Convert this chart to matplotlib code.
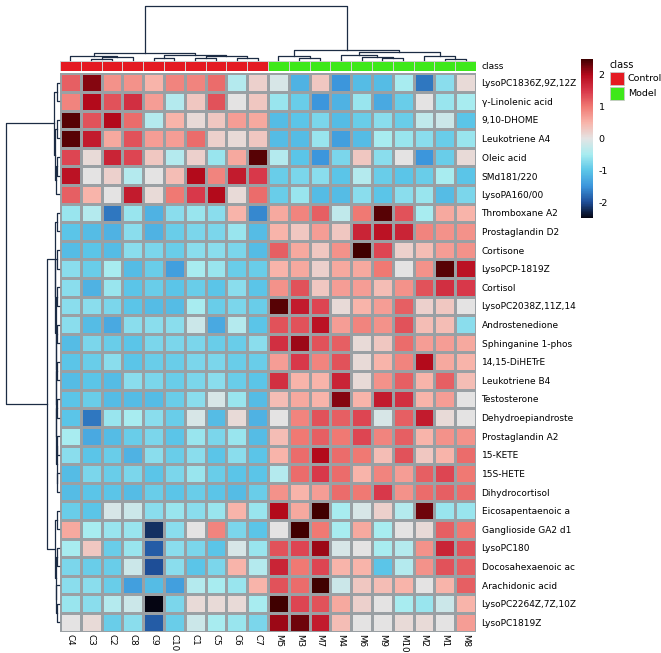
import matplotlib
matplotlib.use('Agg')
import matplotlib.pyplot as plt
import numpy as np
from matplotlib.colors import LinearSegmentedColormap, ListedColormap
from matplotlib.patches import Rectangle

# column (sample) order as displayed
samples = ['C4', 'C3', 'C2', 'C8', 'C9', 'C10', 'C1', 'C5', 'C6', 'C7',
           'M5', 'M3', 'M7', 'M4', 'M6', 'M9', 'M10', 'M2', 'M1', 'M8']
sample_class = ['Control'] * 10 + ['Model'] * 10

metabolites = ['LysoPC1836Z,9Z,12Z', 'γ-Linolenic acid', '9,10-DHOME', 'Leukotriene A4',
               'Oleic acid', 'SMd181/220', 'LysoPA160/00', 'Thromboxane A2',
               'Prostaglandin D2', 'Cortisone', 'LysoPCP-1819Z', 'Cortisol',
               'LysoPC2038Z,11Z,14', 'Androstenedione', 'Sphinganine 1-phos',
               '14,15-DiHETrE', 'Leukotriene B4', 'Testosterone', 'Dehydroepiandroste',
               'Prostaglandin A2', '15-KETE', '15S-HETE', 'Dihydrocortisol',
               'Eicosapentaenoic a', 'Ganglioside GA2 d1', 'LysoPC180',
               'Docosahexaenoic ac', 'Arachidonic acid', 'LysoPC2264Z,7Z,10Z', 'LysoPC1819Z']

# z-scores, one row per metabolite
zscores = [
    [1.2, 2.2, 0.8, 0.8, 0.5, 0.9, 0.9, 1.1, -0.4, 0.2, -0.1, -1.2, 0.3, -1.5, -1.1, -1.1, -0.5, -1.7, -0.7, 0.1],
    [0.9, 2.0, 1.3, 1.6, 0.7, -0.4, 0.3, 1.3, 0.0, 0.3, -0.6, -0.9, -1.5, -1.2, -0.6, -1.3, -0.9, 0.0, -0.6, -0.5],
    [2.4, 1.3, 2.0, 1.1, -0.4, 0.5, 0.1, 0.3, 0.7, 0.6, -1.1, -1.0, -0.8, -1.1, -0.9, -0.7, -0.9, -0.3, -0.2, -1.0],
    [2.4, 1.8, 0.6, 1.3, 0.7, 0.7, 1.1, 0.2, 0.1, 0.3, -1.1, -1.1, -0.6, -1.4, -1.1, -0.5, -0.6, -0.7, -0.9, -0.6],
    [1.4, 0.1, 1.7, 1.4, 0.3, -0.4, 0.2, -0.6, 0.6, 2.4, -0.4, -1.0, -1.5, -0.8, 0.3, -0.7, 0.0, -1.5, -0.9, 0.1],
    [1.9, 0.0, 0.2, -0.4, 0.0, 0.4, 2.0, 0.9, 1.8, 1.5, -0.9, -0.8, -0.7, -1.0, -0.4, -0.9, -1.0, -0.9, -0.5, -1.0],
    [1.2, 0.5, 0.0, 1.8, 0.1, 1.0, 1.5, 2.0, 0.1, 1.1, -0.9, -0.6, -1.1, -1.1, -0.7, -1.0, -0.7, -0.6, -1.1, -0.8],
    [-0.6, -0.4, -1.7, -0.6, -1.2, -0.7, -0.6, -0.7, 0.5, -1.6, 0.6, 0.9, 1.2, -0.3, 1.0, 2.4, 1.3, -0.5, 0.6, 0.5],
    [-1.0, -1.1, -1.2, -0.7, -1.2, -0.9, -0.8, -0.8, -0.6, -1.1, 0.5, 0.3, 0.7, 0.3, 1.7, 1.9, 1.7, 0.9, 0.8, 0.8],
    [-1.1, -1.0, -1.1, -0.7, -0.8, -0.9, -0.7, -0.7, -0.8, -1.1, 1.2, 0.6, 0.3, 0.8, 2.5, 1.4, 0.2, 0.4, 0.7, 0.8],
    [-0.7, -0.9, -0.5, -1.1, -0.9, -1.4, -0.5, -0.6, -0.9, -0.9, 0.5, 0.6, 0.2, 0.6, 0.6, 1.0, 0.0, 0.8, 2.4, 1.9],
    [-0.7, -1.2, -0.6, -1.0, -0.9, -1.0, -0.9, -1.0, -0.7, -1.0, 0.8, 1.3, 0.3, 0.7, 0.7, 0.4, 0.8, 1.3, 1.6, 1.5],
    [-0.7, -0.7, -0.8, -1.0, -1.1, -1.1, -0.5, -0.9, -0.8, -0.9, 2.4, 1.8, 1.4, 0.1, 0.5, 0.7, 1.2, 0.2, 0.3, 0.0],
    [-0.7, -1.1, -1.3, -0.7, -0.7, -0.7, -0.2, -1.3, -0.4, -1.0, 1.3, 1.3, 1.9, 0.7, 0.9, 0.8, 1.3, 0.4, 0.4, -0.7],
    [-1.1, -0.8, -0.9, -1.0, -0.8, -0.8, -0.8, -0.9, -0.9, -0.7, 1.6, 2.1, 1.3, 1.2, 0.1, 0.3, 1.1, 0.7, 0.7, 0.6],
    [-1.0, -0.9, -0.7, -1.0, -0.9, -0.9, -0.8, -0.8, -0.9, -0.9, 0.7, 1.5, 0.9, 1.3, 0.1, 0.5, 0.9, 2.0, 0.6, 0.5],
    [-1.1, -1.0, -1.1, -0.7, -0.8, -0.9, -0.8, -0.7, -0.9, -1.0, 1.6, 0.5, 0.5, 1.7, 0.1, 0.8, 1.2, 0.5, 1.2, 0.4],
    [-1.0, -0.9, -1.1, -1.1, -1.1, -0.9, -0.7, -0.1, -0.6, -1.1, 0.4, 0.6, 0.5, 2.2, 0.5, 1.8, 1.6, 0.5, 0.7, 0.0],
    [-1.0, -1.7, -0.6, -0.5, -0.7, -0.9, -0.1, -1.1, 0.1, -1.2, 0.0, 0.9, 1.3, 1.2, 1.4, -0.1, 1.2, 1.8, 0.1, 0.0],
    [-0.5, -1.3, -1.1, -0.9, -0.8, -1.0, -0.6, -0.8, -0.6, -1.1, 0.4, 1.0, 1.2, 1.0, 1.4, 0.9, 1.2, 0.5, 0.8, 0.8],
    [-0.7, -1.0, -0.9, -1.2, -0.7, -0.9, -0.7, -1.0, -0.7, -1.0, 0.5, 1.1, 2.0, 1.1, 1.0, 0.4, 1.3, 0.3, 0.5, 1.1],
    [-1.1, -0.8, -0.9, -0.8, -1.0, -0.8, -0.6, -0.9, -1.0, -1.0, -0.4, 1.1, 1.5, 1.1, 0.5, 0.9, 0.7, 1.2, 1.4, 1.0],
    [-1.1, -1.0, -1.0, -1.1, -0.9, -1.0, -0.9, -1.0, -1.1, -0.9, 0.8, 0.5, 0.7, 1.1, 1.0, 1.5, 0.8, 1.1, 1.2, 1.1],
    [-0.9, -1.0, -0.1, -0.2, -0.7, -0.6, -0.7, -0.6, 0.5, -0.6, 2.0, 0.6, 2.6, -0.5, -0.1, 0.2, -0.4, 2.3, -0.6, -0.6],
    [0.6, -0.5, -0.6, -0.6, -2.2, -0.7, 0.0, 0.9, -0.8, -1.0, 0.0, 2.6, 1.0, -0.5, 0.6, -0.5, 0.0, 0.1, 1.2, 1.0],
    [-0.5, 0.3, -0.9, -0.6, -1.9, -0.7, -0.8, -1.0, -0.1, -0.6, 1.3, 1.4, 2.1, -0.1, 0.0, -0.5, -0.4, 0.8, 1.7, 1.3],
    [-0.8, -0.9, -0.9, -0.2, -2.0, -0.7, -1.0, -0.8, 0.5, -0.4, 1.7, 1.0, 1.4, 0.5, 0.5, -1.0, -0.4, 0.8, 1.3, 1.2],
    [-0.7, -0.7, -0.9, -1.4, -1.1, -1.4, -0.4, -0.5, -0.6, 0.5, 1.3, 1.1, 2.6, -0.2, 0.3, 0.4, 0.5, 0.0, 0.5, 1.2],
    [-0.6, -0.7, -0.4, -0.2, -2.5, -0.8, 0.1, 0.1, 0.1, -0.5, 2.6, 1.4, 1.3, 0.6, 0.2, 0.0, -0.5, -0.6, -0.2, 0.5],
    [0.0, 0.1, -0.9, -0.7, -1.9, -0.9, -0.2, -0.5, -0.6, -0.8, 2.1, 2.3, 1.8, 0.4, 0.0, 0.0, 0.1, 0.1, 0.0, 0.7],
]

# clustering trees: (left, right, height), leaves are display indices
col_tree = (((0, ((1, 2, 1.5), 3, 3.0), 4.5),
             ((4, 5, 2.5), ((6, 7, 2.0), (8, 9, 2.5), 4.0), 5.5), 6.7),
            ((10, (11, 12, 2.5), 4.3),
             ((13, (14, (15, 16, 2.0), 3.0), 5.0), (17, (18, 19, 1.5), 4.0), 7.7), 10.3),
            55.0)
row_a = ((0, 1, 1.5), ((2, 3, 1.8), ((4, 5, 1.5), 6, 2.5), 3.2), 4.2)
row_b1 = ((7, 8, 1.5), ((9, 10, 1.6), ((11, 12, 1.4), ((13, 14, 1.5), ((15, 16, 1.3),
          ((17, 18, 1.4), ((19, 20, 1.5), (21, 22, 1.2), 2.0), 2.3), 2.5), 2.7), 2.9), 3.1), 3.5)
row_b2 = ((23, 24, 2.0), ((25, 26, 1.5), (27, (28, 29, 1.8), 2.2), 2.6), 3.4)
row_tree = (row_a, (row_b1, row_b2, 11.8), 52.5)

class_colors = {'Control': '#e41a22', 'Model': '#3ee81a'}

cmap = LinearSegmentedColormap.from_list('bluered', [
    (0.00, '#050512'), (0.10, '#1f4f9a'), (0.20, '#3c96dc'), (0.30, '#5cc6e8'),
    (0.40, '#a8ecf0'), (0.50, '#e4e4e4'), (0.60, '#f8b4aa'), (0.70, '#f07a74'),
    (0.80, '#d8384a'), (0.90, '#b50a1c'), (1.00, '#400000')])
vmin, vmax = -2.5, 2.5

W, H = 661, 653


def fig_box(x0, y0, x1, y1):
    # pixel box (top-left origin) -> figure fraction rect
    return [x0 / W, 1 - y1 / H, (x1 - x0) / W, (y1 - y0) / H]


def draw_tree(ax, node, horizontal):
    # returns (position, height) of node, drawing the links on the way
    if isinstance(node, int):
        return node + 0.5, 0.0
    left, right, h = node
    p1, h1 = draw_tree(ax, left, horizontal)
    p2, h2 = draw_tree(ax, right, horizontal)
    pos = [p1, p1, p2, p2]
    hts = [h1, h, h, h2]
    if horizontal:
        ax.plot(hts, pos, color='#1c2c44', lw=0.9, clip_on=False)
    else:
        ax.plot(pos, hts, color='#1c2c44', lw=0.9, clip_on=False)
    return (p1 + p2) / 2, h


fig = plt.figure(figsize=(W / 100, H / 100), dpi=100)

x0, x1 = 60, 476
y0, y1 = 73.3, 631.6
ax = fig.add_axes(fig_box(x0, y0, x1, y1))
data = np.array(zscores)
mesh = ax.pcolormesh(np.arange(len(samples) + 1), np.arange(len(metabolites) + 1), data,
                     cmap=cmap, vmin=vmin, vmax=vmax, edgecolors='#9aa0a4', linewidth=0.8)
ax.set_xlim(0, len(samples))
ax.set_ylim(len(metabolites), 0)
ax.set_xticks(np.arange(len(samples)) + 0.5)
ax.set_xticklabels(samples, rotation=270, fontsize=6.3)
ax.set_yticks(np.arange(len(metabolites)) + 0.5)
ax.set_yticklabels(metabolites, fontsize=6.5)
ax.yaxis.tick_right()
ax.tick_params(axis='y', length=0, pad=4)
ax.tick_params(axis='x', length=0, pad=2)
for s in ax.spines.values():
    s.set_visible(False)

# class annotation bar
axc = fig.add_axes(fig_box(x0, 61, x1, 70.5))
cls_cmap = ListedColormap([class_colors['Control'], class_colors['Model']])
cls_vals = np.array([[0 if c == 'Control' else 1 for c in sample_class]])
axc.pcolormesh(np.arange(len(samples) + 1), [0, 1], cls_vals, cmap=cls_cmap, vmin=0, vmax=1,
               edgecolors='#d0d0d0', linewidth=0.4)
axc.set_xlim(0, len(samples))
axc.set_xticks([])
axc.set_yticks([0.5])
axc.set_yticklabels(['class'], fontsize=6.5)
axc.yaxis.tick_right()
axc.tick_params(length=0, pad=4)
for s in axc.spines.values():
    s.set_visible(False)

# column dendrogram
axd = fig.add_axes(fig_box(x0, 5.5, x1, 60))
draw_tree(axd, col_tree, horizontal=False)
axd.set_xlim(0, len(samples))
axd.set_ylim(0, 55)
axd.axis('off')

# row dendrogram
axr = fig.add_axes(fig_box(6, y0, 58.5, y1))
draw_tree(axr, row_tree, horizontal=True)
axr.set_ylim(len(metabolites), 0)
axr.set_xlim(52.5, 0)
axr.axis('off')

# colour key
cax = fig.add_axes(fig_box(581, 59, 593, 218))
cb = fig.colorbar(mesh, cax=cax, ticks=[-2, -1, 0, 1, 2])
cb.outline.set_visible(False)
cb.ax.tick_params(length=0, labelsize=6.8, pad=4)
cb.ax.set_yticklabels(['-2', '-1', '0', '1', '2'])

# class legend
fig.text(609 / W, 1 - 65 / H, 'class', fontsize=7, va='center', ha='left')
for i, name in enumerate(['Control', 'Model']):
    yy = 72 + i * 15
    fig.patches.append(Rectangle((610 / W, 1 - (yy + 13) / H), 14 / W, 13 / H,
                                 transform=fig.transFigure, facecolor=class_colors[name],
                                 edgecolor='#c8c8c8', lw=0.6))
    fig.text(628 / W, 1 - (yy + 6.5) / H, name, fontsize=6.8, va='center', ha='left')

fig.savefig('out.png', dpi=100)
